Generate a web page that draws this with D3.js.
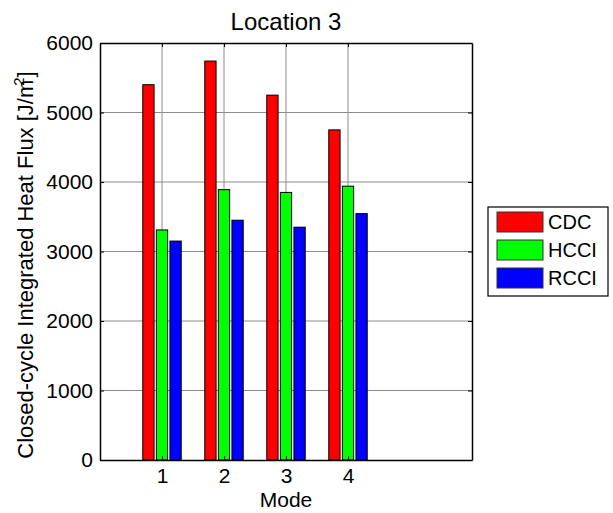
<!DOCTYPE html>
<html>
<head>
<meta charset="utf-8">
<script src="https://cdn.jsdelivr.net/npm/d3@7"></script>
<style>
  body { margin: 0; background: #fff; }
  svg { display: block; }
  text { font-family: "Liberation Sans", Arial, sans-serif; fill: #000; }
</style>
</head>
<body>
<div id="chart"></div>
<script>
// ---- data ----
const modes = [1, 2, 3, 4];
const seriesNames = ["CDC", "HCCI", "RCCI"];
const seriesColors = ["#ff0000", "#00ff00", "#0000ff"];
const cdcValues = [5400, 5740, 5250, 4750];
const hcciValues = [3310, 3890, 3850, 3940];
const rcciValues = [3150, 3450, 3350, 3545];
const yTicks = [0, 1000, 2000, 3000, 4000, 5000, 6000];
const xTicks = [1, 2, 3, 4];
const titleText = "Location 3";
const xLabel = "Mode";

const series = [cdcValues, hcciValues, rcciValues];

const W = 613, H = 513;
const plot = { left: 100, right: 472, top: 43, bottom: 460 };

const svg = d3.select("#chart").append("svg").attr("width", W).attr("height", H);

const x = d3.scaleLinear().domain([0, 6]).range([plot.left, plot.right]);
const y = d3.scaleLinear().domain([0, 6000]).range([plot.bottom, plot.top]);

const fs = 21;

// grid
const grid = svg.append("g");
grid.selectAll("line.gx").data(xTicks).enter().append("line")
  .attr("x1", d => x(d)).attr("x2", d => x(d))
  .attr("y1", plot.top).attr("y2", plot.bottom)
  .attr("stroke", "#8c8c8c").attr("stroke-width", 1);
grid.selectAll("line.gy").data(yTicks.slice(1, -1)).enter().append("line")
  .attr("x1", plot.left).attr("x2", plot.right)
  .attr("y1", d => y(d)).attr("y2", d => y(d))
  .attr("stroke", "#8c8c8c").attr("stroke-width", 1);

// bars
const barW = 0.182, offs = [-0.219, 0, 0.219];
series.forEach((vals, si) => {
  svg.append("g").selectAll("rect").data(vals).enter().append("rect")
    .attr("x", (d, i) => x(modes[i] + offs[si] - barW / 2))
    .attr("width", x(barW) - x(0))
    .attr("y", d => y(d))
    .attr("height", d => y(0) - y(d))
    .attr("fill", seriesColors[si])
    .attr("stroke", "#000").attr("stroke-width", 1);
});

// axes with inward ticks
const fmt = d3.format("d");
const axL = d3.axisLeft(y).tickValues(yTicks).tickFormat(fmt).tickSizeInner(-4).tickSizeOuter(0).tickPadding(7);
const gL = svg.append("g").attr("transform", `translate(${plot.left},0)`).call(axL);
const axR = d3.axisRight(y).tickValues(yTicks).tickSizeInner(-4).tickSizeOuter(0).tickFormat("");
const gR = svg.append("g").attr("transform", `translate(${plot.right},0)`).call(axR);
const axB = d3.axisBottom(x).tickValues(xTicks).tickFormat(fmt).tickSizeInner(-4).tickSizeOuter(0).tickPadding(8);
const gB = svg.append("g").attr("transform", `translate(0,${plot.bottom})`).call(axB);
const axT = d3.axisTop(x).tickValues(xTicks).tickSizeInner(-4).tickSizeOuter(0).tickFormat("");
const gT = svg.append("g").attr("transform", `translate(0,${plot.top})`).call(axT);
[gL, gR, gB, gT].forEach(g => {
  g.select(".domain").attr("stroke", "#000").attr("stroke-width", 1.5);
  g.selectAll(".tick line").attr("stroke", "#000");
  g.selectAll("text").attr("font-size", fs).attr("font-family", "Liberation Sans, Arial, sans-serif").attr("fill", "#000");
});
gB.selectAll(".tick text").attr("dy", "0.71em");

// title
svg.append("text").attr("x", (plot.left + plot.right) / 2).attr("y", 30)
  .attr("text-anchor", "middle").attr("font-size", 24).text(titleText);
// x label
svg.append("text").attr("x", (plot.left + plot.right) / 2).attr("y", 507)
  .attr("text-anchor", "middle").attr("font-size", fs).text(xLabel);
// y label
const yl = svg.append("text").attr("transform", "translate(33,265) rotate(-90)")
  .attr("text-anchor", "middle").attr("font-size", 22);
yl.append("tspan").text("Closed-cycle Integrated Heat Flux [J/m");
yl.append("tspan").attr("font-size", 15).attr("dy", -9).attr("dx", -6).text("2");
yl.append("tspan").attr("dy", 9).text("]");

// legend
const lg = svg.append("g");
lg.append("rect").attr("x", 488).attr("y", 207).attr("width", 120).attr("height", 89)
  .attr("fill", "#fff").attr("stroke", "#000").attr("stroke-width", 1.2);
const rowY = [212, 240, 268];
seriesNames.forEach((name, i) => {
  lg.append("rect").attr("x", 497).attr("y", rowY[i]).attr("width", 46).attr("height", 20)
    .attr("fill", seriesColors[i]).attr("stroke", "#333").attr("stroke-width", 1);
  lg.append("text").attr("x", 548).attr("y", rowY[i] + 10).attr("dy", "0.35em")
    .attr("font-size", 20).text(name);
});
</script>
</body>
</html>
